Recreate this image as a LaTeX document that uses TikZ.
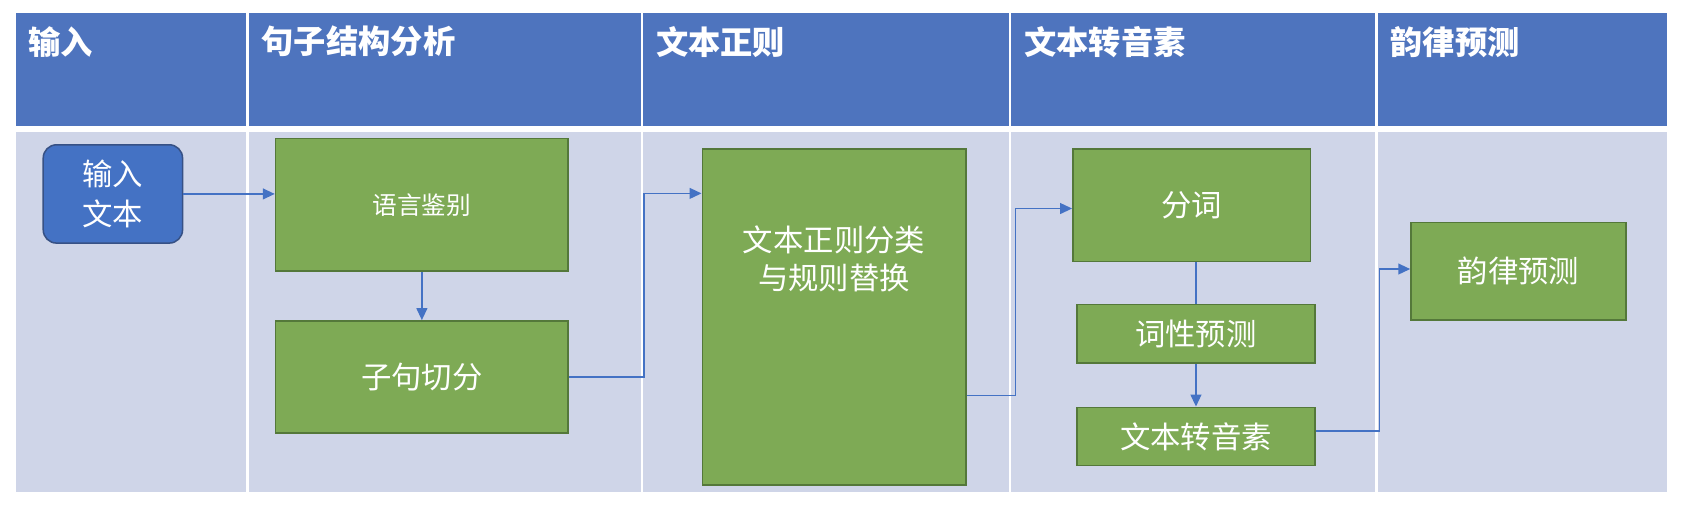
\documentclass[tikz,border=0pt]{standalone}
\usepackage{fontspec}
\setmainfont{Noto Sans CJK SC}
\usetikzlibrary{positioning,arrows.meta}
\definecolor{headblue}{HTML}{4E74BE}
\definecolor{laneblue}{HTML}{CFD5E8}
\definecolor{stepgreen}{HTML}{7EAA55}
\definecolor{stepedge}{HTML}{54783A}
\definecolor{linkblue}{HTML}{4472C4}
\tikzset{
  stepbox/.style={rectangle, draw=stepedge, thick, fill=stepgreen, text=white,
                  align=center, inner sep=0pt, font=\fontsize{16}{20}\selectfont},
  link/.style={-{Triangle[length=2.2mm,width=2mm]}, draw=linkblue, thick},
  head/.style={anchor=north west, text=white, font=\fontsize{17}{20}\selectfont\bfseries}
}
\begin{document}
\begin{tikzpicture}[x=0.02cm, y=-0.02cm]
\useasboundingbox (0,0) rectangle (1568,478);

% Lanes
\fill[headblue] (15,12) rectangle (1543,117);
\fill[laneblue] (15,122) rectangle (1543,455);
\foreach \xx in {229,594,935,1274}
  \draw[white, line width=1.2pt] (\xx,12) -- (\xx,455);

\node[head] (h1) at (20,18) {输入};
\node[head] (h2) at (236,18) {句子结构分析};
\node[head] (h3) at (601,18) {文本正则};
\node[head] (h4) at (942,18) {文本转音素};
\node[head] (h5) at (1281,18) {韵律预测};

% Steps
\node[stepbox, draw=headblue!70!black, fill=linkblue, rounded corners=7pt,
      minimum width=2.58cm, minimum height=1.82cm, font=\fontsize{16}{21}\selectfont] (input) at (104.5,179.5) {输入\\文本};
\node[stepbox, minimum width=5.42cm, minimum height=2.46cm, font=\fontsize{13}{16}\selectfont] (lang) at (390.5,189.5) {语言鉴别};
\node[stepbox, minimum width=5.42cm, minimum height=2.08cm] (clause) at (390.5,349) {子句切分};
\node[stepbox, minimum width=4.88cm, minimum height=6.22cm, text depth=2.2cm] (norm) at (772,293.5) {文本正则分类\\与规则替换};
\node[stepbox, minimum width=4.4cm, minimum height=2.08cm] (seg) at (1103,190) {分词};
\node[stepbox, minimum width=4.4cm, minimum height=1.08cm] (pos) at (1107,309) {词性预测};
\node[stepbox, minimum width=4.4cm, minimum height=1.08cm] (g2p) at (1107,404) {文本转音素};
\node[stepbox, minimum width=3.98cm, minimum height=1.8cm] (pros) at (1405.5,251) {韵律预测};

% Links
\draw[link] (input.east) -- (lang.west |- input.east);
\draw[link] (lang) -- (clause);
\draw[link] (clause.east) -| (596,265) |- (norm.west |- 0,179);
\draw[link] (norm.east |- 0,366) -| (940,280) |- (seg.west |- 0,193);
\draw[linkblue, thick] (seg.south -| pos.north) -- (pos.north);
\draw[link] (pos) -- (g2p);
\draw[link] (g2p.east |- 0,399) -| (1277,320) |- (pros.west |- 0,249);
\end{tikzpicture}
\end{document}
